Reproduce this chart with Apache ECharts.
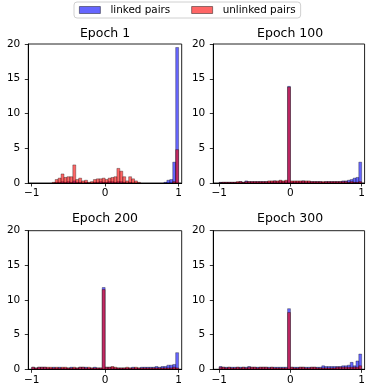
<!DOCTYPE html>
<html>
<head>
<meta charset="utf-8">
<script src="https://cdn.jsdelivr.net/npm/echarts@6/dist/echarts.min.js"></script>
<style>
html,body{margin:0;padding:0;background:#fff;}
#chart{width:368px;height:387px;}
</style>
</head>
<body>
<div id="chart"></div>
<script>
// Histogram settings: 50 bins over [-1, 1]
const binLo = -1, binHi = 1, binCount = 50;
const seriesNames = ['linked pairs', 'unlinked pairs'];
const panelTitles = ['Epoch 1', 'Epoch 100', 'Epoch 200', 'Epoch 300'];
const xTickValues = [-1, 0, 1];
const yTickValues = [0, 5, 10, 15, 20];

// Density per bin
const ep1Linked = [0,0,0,0,0,0,0,0,0.1,0.1,0.2,0.1,0.2,0.1,0.3,0.1,0.1,0,0.1,0,0,0.1,0.1,0.2,0.1,0.1,0.2,0.2,0.1,0.2,0.2,0.1,0,0.1,0,0,0,0,0,0,0,0,0,0,0,0.1,0.4,0.5,3.0,19.5];
const ep1Unlinked = [0,0,0,0,0,0,0,0.1,0.5,0.7,1.3,0.8,0.9,0.9,2.6,0.5,0.7,0.3,0.4,0.1,0.2,0.5,0.6,0.6,0.7,0.5,0.7,0.8,0.9,2.1,1.7,0.9,0.3,0.9,0.6,0.3,0.1,0,0,0,0,0,0,0,0,0,0,0,0.2,4.8];
const ep100Linked = [0.1,0.1,0.1,0.1,0.1,0.1,0.1,0.2,0.1,0.3,0.2,0.2,0.2,0.2,0.2,0.2,0.2,0.2,0.2,0.3,0.2,0.3,0.2,0.3,13.9,0.2,0.2,0.2,0.2,0.3,0.2,0.2,0.2,0.2,0.2,0.2,0.1,0.2,0.2,0.2,0.2,0.2,0.2,0.3,0.3,0.4,0.5,0.7,0.8,3.0];
const ep100Unlinked = [0.05,0.1,0.1,0.1,0.1,0.1,0.2,0.2,0.1,0.2,0.2,0.2,0.2,0.2,0.2,0.2,0.2,0.3,0.3,0.3,0.3,0.4,0.3,0.4,13.8,0.3,0.3,0.3,0.3,0.3,0.3,0.3,0.2,0.2,0.2,0.2,0.2,0.2,0.2,0.2,0.2,0.2,0.2,0.2,0.2,0.1,0.2,0.1,0.1,0.2];
const ep200Linked = [0.3,0.2,0.3,0.3,0.3,0.2,0.2,0.3,0.2,0.3,0.2,0.2,0.2,0.3,0.2,0.2,0.3,0.3,0.3,0.2,0.2,0.3,0.2,0.2,11.8,0.3,0.3,0.3,0.2,0.2,0.2,0.2,0.2,0.2,0.3,0.2,0.2,0.3,0.3,0.3,0.3,0.3,0.4,0.3,0.4,0.4,0.6,0.6,0.7,2.4];
const ep200Unlinked = [0.3,0.2,0.3,0.3,0.3,0.3,0.3,0.2,0.3,0.2,0.3,0.3,0.2,0.2,0.3,0.2,0.3,0.3,0.2,0.3,0.2,0.2,0.2,0.2,11.5,0.3,0.3,0.4,0.3,0.2,0.2,0.2,0.3,0.2,0.2,0.3,0.2,0.2,0.2,0.2,0.2,0.2,0.2,0.2,0.2,0.2,0.2,0.2,0.3,0.2];
const ep300Linked = [0.4,0.3,0.3,0.3,0.3,0.3,0.3,0.3,0.3,0.3,0.4,0.3,0.3,0.3,0.3,0.3,0.3,0.3,0.3,0.3,0.3,0.3,0.3,0.3,8.75,0.3,0.3,0.3,0.3,0.3,0.3,0.3,0.3,0.3,0.3,0.3,0.5,0.4,0.4,0.4,0.4,0.4,0.4,0.5,0.5,0.6,1.0,0.5,1.2,2.2];
const ep300Unlinked = [0.3,0.3,0.2,0.3,0.2,0.2,0.3,0.2,0.3,0.2,0.3,0.3,0.3,0.2,0.3,0.3,0.3,0.2,0.3,0.2,0.2,0.2,0.2,0.2,8.2,0.3,0.2,0.2,0.3,0.3,0.2,0.2,0.3,0.3,0.2,0.2,0.2,0.2,0.2,0.2,0.2,0.3,0.3,0.3,0.3,0.3,0.3,0.3,0.3,0.5];

const panelData = [
  [ep1Linked, ep1Unlinked],
  [ep100Linked, ep100Unlinked],
  [ep200Linked, ep200Unlinked],
  [ep300Linked, ep300Unlinked]
];

// layout (pixels)
const grids = [
  {left: 28.3, top: 44, width: 153.4, height: 139},
  {left: 213.3, top: 44, width: 153.7, height: 139},
  {left: 28.3, top: 230.7, width: 153.4, height: 138.6},
  {left: 213.3, top: 230.7, width: 153.7, height: 138.6}
];
const xRanges = [[-1.046, 1.042], [-1.083, 1.041], [-1.046, 1.042], [-1.083, 1.041]];
const colors = ['rgba(0,0,255,0.6)', 'rgba(255,0,0,0.6)'];
const edgeColor = 'rgba(0,0,0,0.55)';
const FONT = 'DejaVu Sans';

function toBins(values) {
  const w = (binHi - binLo) / binCount;
  return values.map((v, i) => [binLo + i * w, binLo + (i + 1) * w, v]);
}

function renderBar(params, api) {
  const x0 = api.value(0), x1 = api.value(1), h = api.value(2);
  if (!(h > 0)) return null;
  const p0 = api.coord([x0, 0]);
  const p1 = api.coord([x1, h]);
  return {
    type: 'rect',
    shape: {x: p0[0], y: p1[1], width: p1[0] - p0[0], height: p0[1] - p1[1]},
    style: {fill: colors[params.seriesIndex % 2], stroke: edgeColor, lineWidth: 0.6}
  };
}

const minus = v => String(v).replace('-', '\u2212');

const option = {
  animation: false,
  backgroundColor: '#fff',
  textStyle: {fontFamily: FONT},
  legend: {
    left: 74, top: 2,
    padding: [3, 5, 3, 5],
    itemGap: 21,
    itemWidth: 21, itemHeight: 7,
    borderColor: '#d0d0d0', borderWidth: 1, borderRadius: 3,
    textStyle: {fontFamily: FONT, fontSize: 10.4, color: '#000', padding: [0, 0, 0, 5]},
    data: seriesNames.map((n, k) => ({
      name: n, icon: 'rect',
      itemStyle: {color: colors[k], borderColor: edgeColor, borderWidth: 0.8}
    }))
  },
  title: panelTitles.map((t, i) => ({
    text: t,
    left: grids[i].left + grids[i].width / 2,
    top: i < 2 ? 27.5 : 212,
    textAlign: 'center',
    padding: 0,
    textStyle: {fontFamily: FONT, fontSize: 12.5, fontWeight: 'normal', color: '#000'}
  })),
  grid: grids.map(g => Object.assign({show: true, borderColor: '#222', borderWidth: 1, backgroundColor: 'transparent'}, g)),
  xAxis: grids.map((g, i) => ({
    type: 'value', gridIndex: i,
    min: xRanges[i][0], max: xRanges[i][1],
    splitLine: {show: false},
    axisLine: {show: true, onZero: false, lineStyle: {color: '#000', width: 1}},
    axisTick: {show: true, length: 3.5, lineStyle: {color: '#000', width: 0.8}, customValues: xTickValues},
    axisLabel: {show: true, margin: 5, fontFamily: FONT, fontSize: 10.5, color: '#000', customValues: xTickValues, formatter: minus}
  })),
  yAxis: grids.map((g, i) => ({
    type: 'value', gridIndex: i,
    min: 0, max: 20, interval: 5,
    splitLine: {show: false},
    axisLine: {show: true, onZero: false, lineStyle: {color: '#000', width: 1}},
    axisTick: {show: true, length: 3.5, lineStyle: {color: '#000', width: 0.8}},
    axisLabel: {show: true, margin: 8, fontFamily: FONT, fontSize: 10.5, color: '#000'}
  })),
  series: []
};

panelData.forEach((pair, i) => {
  pair.forEach((vals, k) => {
    option.series.push({
      type: 'custom',
      name: seriesNames[k],
      xAxisIndex: i, yAxisIndex: i,
      renderItem: renderBar,
      itemStyle: {color: colors[k]},
      encode: {x: [0, 1], y: 2},
      data: toBins(vals),
      clip: true
    });
  });
});

const chart = echarts.init(document.getElementById('chart'), null, {renderer: 'canvas'});
chart.setOption(option);
</script>
</body>
</html>
